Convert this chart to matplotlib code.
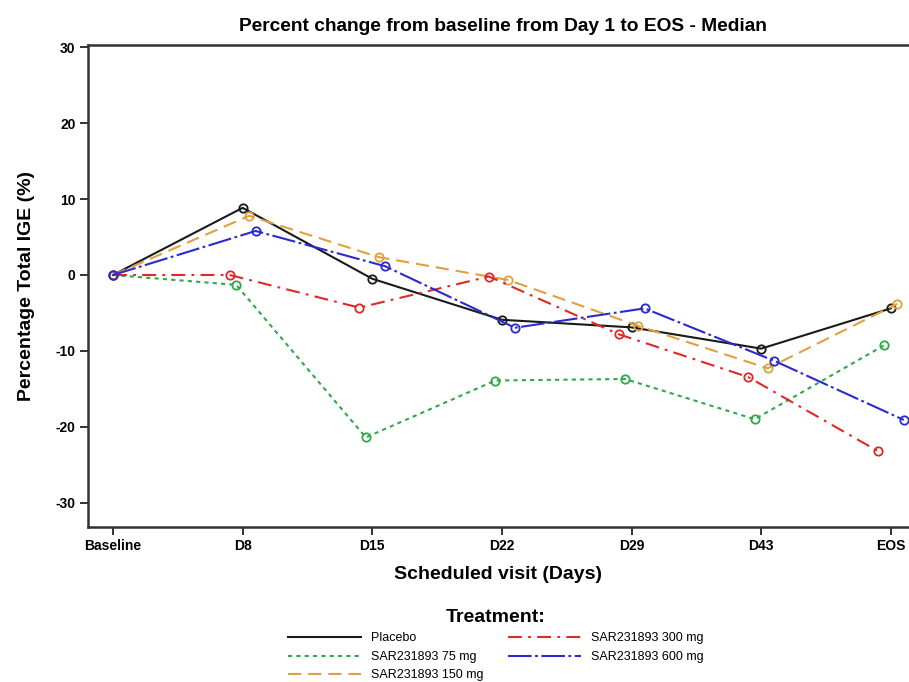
import matplotlib
matplotlib.use("Agg")
import matplotlib.pyplot as plt
import numpy as np

plt.rcParams['font.family'] = ['Liberation Sans', 'DejaVu Sans']
plt.rcParams['lines.scale_dashes'] = False

visits = ["Baseline", "D8", "D15", "D22", "D29", "D43", "EOS"]
treatments = ["Placebo", "SAR231893 75 mg", "SAR231893 150 mg",
              "SAR231893 300 mg", "SAR231893 600 mg"]

placebo = [0.0, 8.85, -0.5, -5.9, -6.9, -9.7, -4.4]
sar75 = [0.0, -1.3, -21.4, -13.9, -13.7, -19.0, -9.25]
sar150 = [0.0, 7.8, 2.35, -0.66, -6.7, -12.3, -3.8]
sar300 = [0.0, 0.0, -4.3, -0.2, -7.8, -13.45, -23.2]
sar600 = [0.0, 5.8, 1.15, -6.95, -4.4, -11.3, -19.1]

series = [placebo, sar75, sar150, sar300, sar600]
colors = ["#1a1a1a", "#2fa84a", "#e0a040", "#e02828", "#2a2ad0"]
styles = ["-", (0, (3, 3)), (0, (9.5, 5)), (0, (10, 4.5, 2, 4.5)),
          (0, (17, 2.5, 2, 2.5))]
offsets = [0.0, -0.05, 0.05, -0.1, 0.1]

fig = plt.figure(figsize=(9.09, 6.82), dpi=100)
ax = fig.add_axes([88 / 909, 1 - 527 / 682, 1 - 88 / 909, (527 - 45) / 682])

x = np.arange(len(visits), dtype=float)
for vals, name, c, ls, off in zip(series, treatments, colors, styles, offsets):
    xs = x + off
    xs[0] = x[0]
    ax.plot(xs, vals, color=c, linestyle=ls, lw=1.5, marker='o', ms=6,
            mfc='none', mec=c, mew=1.3, label=name)

ax.set_xlim(-0.193, 6.14)
ax.set_ylim(-33.2, 30.3)
ax.set_xticks(x)
ax.set_xticklabels(visits, fontsize=10, fontweight='bold')
ax.set_yticks([-30, -20, -10, 0, 10, 20, 30])
ax.set_yticklabels(["-30", "-20", "-10", "0", "10", "20", "30"], fontsize=10, fontweight='bold')
ax.tick_params(direction='out', length=6, width=1.3, color='#222222', pad=3)
for s in ['left', 'bottom', 'top']:
    ax.spines[s].set_linewidth(1.8)
    ax.spines[s].set_color('#333333')
ax.spines['right'].set_visible(False)

ax.set_title("Percent change from baseline from Day 1 to EOS - Median",
             fontsize=13.8, fontweight='bold', pad=10, x=(503 - 88) / 821)
ax.set_xlabel("Scheduled visit (Days)", fontsize=14, fontweight='bold', labelpad=9)
ax.set_ylabel("Percentage Total IGE (%)", fontsize=14, fontweight='bold', labelpad=15)

leg = fig.legend(loc='upper center', bbox_to_anchor=(496 / 909, 1 - 601 / 682),
                 ncol=2, frameon=False, fontsize=9, title="Treatment:",
                 title_fontproperties={'weight': 'bold', 'size': 14},
                 handlelength=5.8, labelspacing=0.52, columnspacing=2.0,
                 handletextpad=0.8, borderpad=0.1)
leg._legend_box.sep = 5
for h in leg.legend_handles:
    h.set_marker('')

fig.savefig("out.png", dpi=100)
